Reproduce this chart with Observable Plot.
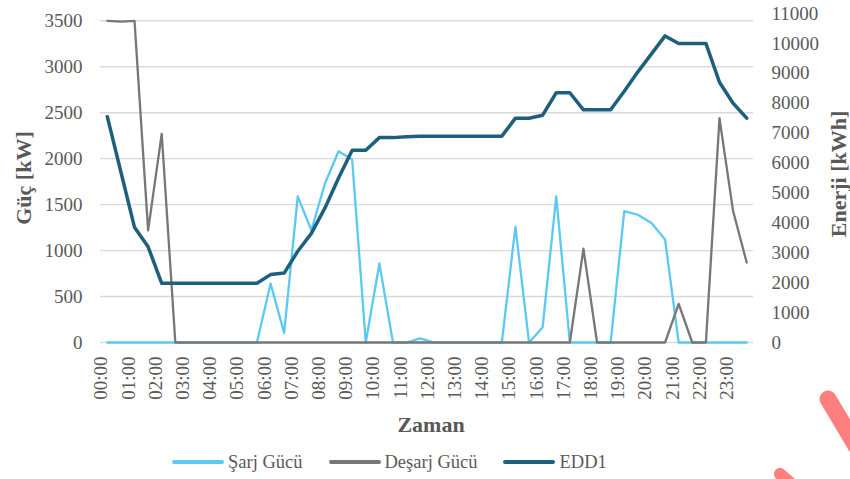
<!DOCTYPE html>
<html>
<head>
<meta charset="utf-8">
<script src="https://cdn.jsdelivr.net/npm/d3@7"></script>
<script src="https://cdn.jsdelivr.net/npm/@observablehq/plot@0.6"></script>
<style>
  body { margin: 0; background: #fff; font-family: "Liberation Serif", "DejaVu Serif", serif; }
  #wrap { position: relative; width: 850px; height: 479px; overflow: hidden; background: #fff; }
  #legend { position: absolute; top: 445px; left: 172px; height: 34px; display: flex; align-items: center; font-size: 18.5px; color: #595959; font-family: "Liberation Serif", "DejaVu Serif", serif; }
  .item { display: flex; align-items: center; margin-right: 26px; }
  .sw { display: inline-block; width: 52px; height: 4px; border-radius: 2px; margin-right: 4px; }
  #deco { position: absolute; left: 0; top: 0; pointer-events: none; }
</style>
</head>
<body>
<div id="wrap">
  <div id="chart"></div>
  <div id="legend"></div>
  <svg id="deco" width="850" height="479">
    <line x1="828" y1="399" x2="856" y2="446" stroke="#FF7F7F" stroke-width="17" stroke-linecap="round"/>
    <line x1="780" y1="474" x2="794" y2="486" stroke="#FF7F7F" stroke-width="12" stroke-linecap="round"/>
  </svg>
</div>
<script>
const times = ["00:00","00:30","01:00","01:30","02:00","02:30","03:00","03:30","04:00","04:30","05:00","05:30",
  "06:00","06:30","07:00","07:30","08:00","08:30","09:00","09:30","10:00","10:30","11:00","11:30",
  "12:00","12:30","13:00","13:30","14:00","14:30","15:00","15:30","16:00","16:30","17:00","17:30",
  "18:00","18:30","19:00","19:30","20:00","20:30","21:00","21:30","22:00","22:30","23:00","23:30"];
const xTicks = ["00:00","01:00","02:00","03:00","04:00","05:00","06:00","07:00","08:00","09:00","10:00","11:00",
  "12:00","13:00","14:00","15:00","16:00","17:00","18:00","19:00","20:00","21:00","22:00","23:00"];

// Şarj Gücü [kW] (left axis)
const sarj = [0,0,0,0,0,0,0,0,0,0,0,0,
  640,105,1590,1220,1730,2080,1990,0,860,0,0,45,
  0,0,0,0,0,0,1260,0,167,1590,0,0,
  0,0,1430,1390,1300,1120,0,0,0,0,0,0];
// Deşarj Gücü [kW] (left axis)
const desarj = [3500,3490,3500,1220,2270,0,0,0,0,0,0,0,
  0,0,0,0,0,0,0,0,0,0,0,0,
  0,0,0,0,0,0,0,0,0,0,0,1020,
  0,0,0,0,0,0,420,0,0,2440,1430,870];
// EDD1 [kWh] (right axis)
const edd1 = [7550,5700,3850,3200,1980,1980,1980,1980,1980,1980,1980,1980,
  2270,2320,3050,3650,4500,5500,6430,6430,6850,6850,6880,6900,
  6900,6900,6900,6900,6900,6900,7500,7500,7600,8350,8350,7780,
  7780,7780,8400,9050,9650,10250,10000,10000,10000,8700,8000,7500];

const leftTicks = [0,500,1000,1500,2000,2500,3000,3500];
const rightTicks = [0,1000,2000,3000,4000,5000,6000,7000,8000,9000,10000,11000];
const seriesNames = ["Şarj Gücü","Deşarj Gücü","EDD1"];
const seriesColors = ["#5BC9F2","#777777","#1F5F7E"];

// right axis (kWh) expressed in left-axis (kW) units
const factor = 0.3254;
const rows = times.map((t, i) => ({i, t, sarj: sarj[i], desarj: desarj[i], edd: edd1[i] * factor}));
const idx = t => times.indexOf(t);

const font = "'Liberation Serif', 'DejaVu Serif', serif";
const tickStyle = {fontSize: 19, fill: "#595959", fontFamily: font};
const titleStyle = {fontSize: 22, fontWeight: "bold", fill: "#595959", fontFamily: font, textAnchor: "middle"};

const chart = Plot.plot({
  width: 850,
  height: 445,
  marginLeft: 100,
  marginRight: 97,
  marginTop: 13,
  marginBottom: 103,
  x: {type: "linear", domain: [-0.5, times.length - 0.5], axis: null},
  y: {domain: [0, 11000 * factor], axis: null},
  style: {fontFamily: font, background: "#fff", overflow: "visible"},
  marks: [
    Plot.ruleY(leftTicks, {stroke: "#d9d9d9", strokeWidth: 1.4}),
    Plot.lineY(rows, {x: "i", y: "sarj", stroke: seriesColors[0], strokeWidth: 2.3}),
    Plot.lineY(rows, {x: "i", y: "desarj", stroke: seriesColors[1], strokeWidth: 2.3}),
    Plot.lineY(rows, {x: "i", y: "edd", stroke: seriesColors[2], strokeWidth: 3.5}),
    Plot.text(leftTicks, {y: d => d, text: d => String(d), frameAnchor: "left", dx: -18, textAnchor: "end", ...tickStyle}),
    Plot.text(rightTicks, {y: d => d * factor, text: d => String(d), frameAnchor: "right", dx: 18, textAnchor: "start", ...tickStyle}),
    Plot.text(xTicks, {x: idx, text: d => d, frameAnchor: "bottom", dy: 14, rotate: -90, textAnchor: "end", ...tickStyle}),
    Plot.text(["Güç [kW]"], {text: d => d, frameAnchor: "left", dx: -77, rotate: -90, ...titleStyle}),
    Plot.text(["Enerji [kWh]"], {text: d => d, frameAnchor: "right", dx: 85, dy: -4, rotate: -90, ...titleStyle}),
    Plot.text(["Zaman"], {text: d => d, frameAnchor: "bottom", dx: 4, dy: 89, ...titleStyle})
  ]
});
document.getElementById("chart").appendChild(chart);

const legend = d3.select("#legend");
seriesNames.forEach((name, i) => {
  const item = legend.append("div").attr("class", "item");
  item.append("span").attr("class", "sw").style("background", seriesColors[i]);
  item.append("span").text(name);
});
</script>
</body>
</html>
